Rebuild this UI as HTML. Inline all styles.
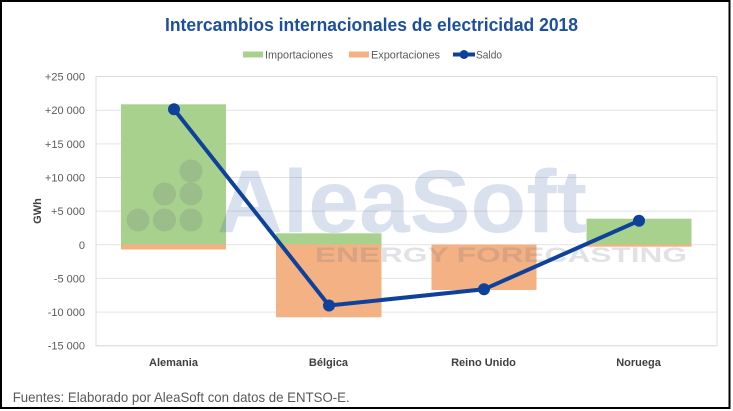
<!DOCTYPE html>
<html>
<head>
<meta charset="utf-8">
<style>
  html, body { margin:0; padding:0; background:#fff; }
  body { width:733px; height:411px; overflow:hidden; }
  svg { display:block; }
  text { font-family: "Liberation Sans", sans-serif; }
</style>
</head>
<body>
<svg width="733" height="411" viewBox="0 0 733 411" xmlns="http://www.w3.org/2000/svg">
  <rect x="0" y="0" width="733" height="411" fill="#fff"/>

  <!-- Title -->
  <text x="165" y="31" font-size="18" font-weight="bold" fill="#1c4f9f" textLength="413" lengthAdjust="spacingAndGlyphs">Intercambios internacionales de electricidad 2018</text>

  <!-- Legend -->
  <rect x="243" y="51.5" width="20" height="6" fill="#a9d18e"/>
  <text x="265" y="58.5" font-size="11" fill="#595959" textLength="68" lengthAdjust="spacingAndGlyphs">Importaciones</text>
  <rect x="349" y="51.5" width="20" height="6" fill="#f4b183"/>
  <text x="371" y="58.5" font-size="11" fill="#595959" textLength="69" lengthAdjust="spacingAndGlyphs">Exportaciones</text>
  <line x1="453" y1="54.5" x2="475" y2="54.5" stroke="#0e429a" stroke-width="4"/>
  <circle cx="464" cy="54.5" r="4.5" fill="#0e429a"/>
  <text x="476" y="58.5" font-size="11" fill="#595959" textLength="26" lengthAdjust="spacingAndGlyphs">Saldo</text>

  <!-- Gridlines -->
  <g stroke="#e3e3e3" stroke-width="1">
    <line x1="96" y1="76.5" x2="717" y2="76.5"/>
    <line x1="96" y1="110.2" x2="717" y2="110.2"/>
    <line x1="96" y1="143.9" x2="717" y2="143.9"/>
    <line x1="96" y1="177.5" x2="717" y2="177.5"/>
    <line x1="96" y1="211.1" x2="717" y2="211.1"/>
    <line x1="96" y1="244.8" x2="717" y2="244.8"/>
    <line x1="96" y1="278.4" x2="717" y2="278.4"/>
    <line x1="96" y1="312.1" x2="717" y2="312.1"/>
    <line x1="96" y1="345.7" x2="717" y2="345.7"/>
  </g>
  <rect x="96" y="76.5" width="621" height="269.2" fill="none" stroke="#dcdcdc" stroke-width="1"/>

  <!-- Y labels -->
  <g font-size="11" fill="#595959" text-anchor="end">
    <text x="85" y="80.5">+25 000</text>
    <text x="85" y="114.2">+20 000</text>
    <text x="85" y="147.9">+15 000</text>
    <text x="85" y="181.5">+10 000</text>
    <text x="85" y="215.1">+5 000</text>
    <text x="85" y="248.8">0</text>
    <text x="85" y="282.4">-5 000</text>
    <text x="85" y="316.1">-10 000</text>
    <text x="85" y="349.7">-15 000</text>
  </g>
  <text x="0" y="0" font-size="11" font-weight="bold" fill="#404040" text-anchor="middle" transform="translate(41,211) rotate(-90)">GWh</text>

  <!-- Bars -->
  <rect x="121" y="104.3" width="105" height="140.2" fill="#a9d18e"/>
  <rect x="121" y="244.5" width="105" height="5" fill="#f4b183"/>

  <rect x="276" y="233.3" width="105.5" height="11.2" fill="#a9d18e"/>
  <rect x="276" y="244.5" width="105.5" height="72.8" fill="#f4b183"/>

  <rect x="431.5" y="244.5" width="105" height="45.5" fill="#f4b183"/>

  <rect x="586.5" y="218.7" width="105" height="25.8" fill="#a9d18e"/>
  <rect x="586.5" y="244.5" width="105" height="2.2" fill="#f4b183"/>

  <!-- Watermark -->
  <g fill="rgb(100,112,118)" fill-opacity="0.2">
    <circle cx="191" cy="171" r="11.5"/>
    <circle cx="164.5" cy="194" r="11.5"/>
    <circle cx="191" cy="194" r="11.5"/>
    <circle cx="138" cy="220" r="11.5"/>
    <circle cx="164.5" cy="220" r="11.5"/>
    <circle cx="191" cy="220" r="11.5"/>
  </g>
  <text x="217" y="232" font-size="89" font-weight="bold" fill="rgb(31,78,156)" fill-opacity="0.17" textLength="370" lengthAdjust="spacingAndGlyphs">AleaSoft</text>
  <text x="315" y="262" font-size="21" font-weight="bold" fill="rgb(100,110,130)" fill-opacity="0.2" textLength="372" lengthAdjust="spacingAndGlyphs">ENERGY FORECASTING</text>

  <!-- Saldo line -->
  <polyline points="174,109.3 329,305.5 484,289.3 639,220.7" fill="none" stroke="#0e429a" stroke-width="4" stroke-linejoin="round"/>
  <g fill="#0e429a">
    <circle cx="174" cy="109.3" r="6"/>
    <circle cx="329" cy="305.5" r="6"/>
    <circle cx="484" cy="289.3" r="6"/>
    <circle cx="639" cy="220.7" r="6"/>
  </g>

  <!-- Category labels -->
  <g font-size="11" font-weight="bold" fill="#404040" text-anchor="middle">
    <text x="173.5" y="366">Alemania</text>
    <text x="328.5" y="366">Bélgica</text>
    <text x="483.5" y="366">Reino Unido</text>
    <text x="638.5" y="366">Noruega</text>
  </g>

  <!-- Footer -->
  <text x="12.7" y="402" font-size="14" fill="#595959" textLength="337" lengthAdjust="spacingAndGlyphs">Fuentes: Elaborado por AleaSoft con datos de ENTSO-E.</text>

  <!-- Outer frame -->
  <rect x="1" y="1" width="728.5" height="407" fill="none" stroke="#000" stroke-width="2"/>
</svg>
</body>
</html>
